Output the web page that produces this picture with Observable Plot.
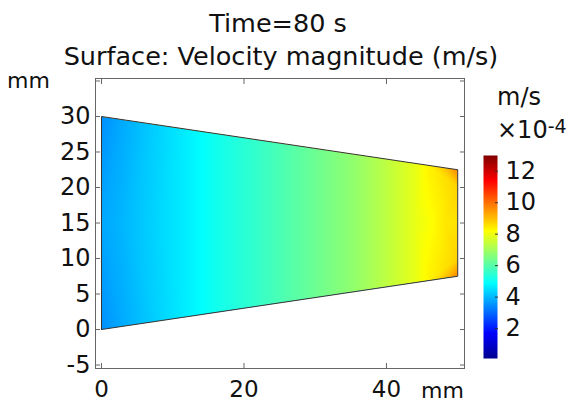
<!DOCTYPE html>
<html><head><meta charset="utf-8">
<script src="https://cdn.jsdelivr.net/npm/d3@7"></script>
<script src="https://cdn.jsdelivr.net/npm/@observablehq/plot@0.6"></script>
<style>
html,body{margin:0;padding:0;background:#fff;}
#wrap{position:relative;width:573px;height:403px;overflow:hidden;font-family:"DejaVu Sans",sans-serif;color:#111;}
.t{position:absolute;white-space:nowrap;line-height:1;}
#plot,#bar{position:absolute;top:0;}
#plot{left:0;}
#bar{left:470px;}
</style></head><body>
<div id="wrap">
  <div id="plot"></div>
  <div id="bar"></div>
  <div class="t" id="title1" style="font-size:25.5px;left:278px;top:10.5px;transform:translateX(-50%)"></div>
  <div class="t" id="title2" style="font-size:25.5px;left:281px;top:43.5px;transform:translateX(-50%)"></div>
  <div class="t" id="ylab" style="font-size:22px;left:7px;top:70.4px"></div>
  <div class="t" id="xlab" style="font-size:22px;left:421px;top:379.5px"></div>
  <div class="t" id="cunit" style="font-size:24px;left:497px;top:84.7px"></div>
  <div class="t" id="cexp" style="font-size:24px;left:497px;top:117.7px"></div>
</div>
<script>
// ---- texts ----
const titleText = "Time=80 s";
const subtitleText = "Surface: Velocity magnitude (m/s)";
const axisUnit = "mm";
const colorUnit = "m/s";
const colorBase = "\u00d710";
const colorExp = "-4";

// ---- geometry of the domain (mm) ----
const shapeX = [0, 50, 50, 0, 0];
const shapeY = [0, 7.5, 22.5, 30, 0];

// ---- velocity magnitude samples (x1e-4 m/s), read per column ----
const colX       = [0, 3, 8, 12, 16, 21, 25, 30, 35, 40, 44, 46, 48, 50];
const colBottomY = [0, 0.45, 1.2, 1.8, 2.4, 3.15, 3.75, 4.5, 5.25, 6, 6.6, 6.9, 7.2, 7.5];
const colTopY    = [30, 29.55, 28.8, 28.2, 27.6, 26.85, 26.25, 25.5, 24.75, 24, 23.4, 23.1, 22.8, 22.5];
const colMidV    = [3.8, 4.0, 4.4, 4.7, 5.1, 5.5, 5.85, 6.3, 6.75, 7.35, 7.9, 8.15, 8.45, 8.55];
const colEdgeV   = [3.5, 3.85, 4.35, 4.7, 5.1, 5.5, 5.85, 6.3, 6.75, 7.35, 7.9, 8.35, 8.9, 9.7];
const midY = 15;
// extra readings along the outlet edge (x = 50 mm)
const outletY = [10, 20];
const outletV = [8.75, 8.75];

// ---- ticks ----
const xTicks = [0, 20, 40];
const yTicks = [-5, 0, 5, 10, 15, 20, 25, 30, 35];
const yLabelled = [-5, 0, 5, 10, 15, 20, 25, 30];
const barTicks = [2, 4, 6, 8, 10, 12];

// ---- colour map (rainbow) ----
const colorDomain = [0.1, 1.7, 4.9, 8.2, 11.4, 13];
const colorRange = ["#00008f", "#0000ff", "#00ffff", "#ffff00", "#ff0000", "#800000"];

document.getElementById("title1").textContent = titleText;
document.getElementById("title2").textContent = subtitleText;
document.getElementById("ylab").textContent = axisUnit;
document.getElementById("xlab").textContent = axisUnit;
document.getElementById("cunit").textContent = colorUnit;
document.getElementById("cexp").innerHTML = colorBase + '<span style="font-size:19px;position:relative;top:-5px">' + colorExp + '</span>';

const samples = [];
colX.forEach((x, i) => {
  samples.push({x, y: colBottomY[i], v: colEdgeV[i]});
  samples.push({x, y: midY, v: colMidV[i]});
  samples.push({x, y: colTopY[i], v: colEdgeV[i]});
});
outletY.forEach((y, i) => samples.push({x: 50, y, v: outletV[i]}));
const shape = shapeX.map((x, i) => ({x, y: shapeY[i]}));

const colorOpts = {type: "linear", domain: colorDomain, range: colorRange, interpolate: "rgb"};
const styleOpts = {fontFamily: "DejaVu Sans", fontSize: "24px", color: "#111", background: "transparent", overflow: "visible"};

const plot = Plot.plot({
  width: 470, height: 403,
  marginLeft: 95, marginRight: 6, marginTop: 78, marginBottom: 35,
  x: {domain: [-0.84, 50.95]},
  y: {domain: [-5.49, 35.35]},
  color: colorOpts,
  style: styleOpts,
  marks: [
    Plot.raster(samples, {x: "x", y: "y", fill: "v", x1: 0, x2: 50, y1: 0, y2: 30, interpolate: "barycentric"}),
    Plot.line(shape, {x: "x", y: "y", stroke: "#333", strokeWidth: 1}),
    Plot.frame({stroke: "#666"}),
    Plot.axisX({anchor: "bottom", ticks: xTicks, tickSize: -5, tickPadding: 17, stroke: "#666", fontSize: 23, label: null, tickFormat: d => String(d)}),
    Plot.axisX({anchor: "top", ticks: xTicks, tickSize: -5, stroke: "#666", label: null, tickFormat: () => ""}),
    Plot.axisY({anchor: "left", ticks: yTicks, tickSize: -5, tickPadding: 10, stroke: "#666", fontSize: 24, label: null,
      tickFormat: d => yLabelled.includes(d) ? String(d) : ""}),
    Plot.axisY({anchor: "right", ticks: yTicks, tickSize: -5, stroke: "#666", label: null, tickFormat: () => ""})
  ]
});

// clip the field to the trapezoid
const xs = plot.scale("x"), ys = plot.scale("y");
const ns = "http://www.w3.org/2000/svg";
const defs = document.createElementNS(ns, "defs");
const cp = document.createElementNS(ns, "clipPath");
cp.setAttribute("id", "trapClip");
const poly = document.createElementNS(ns, "polygon");
poly.setAttribute("points", shape.map(d => `${xs.apply(d.x)},${ys.apply(d.y)}`).join(" "));
cp.appendChild(poly); defs.appendChild(cp);
plot.insertBefore(defs, plot.firstChild);
const img = plot.querySelector("image");
if (img) img.parentNode.setAttribute("clip-path", "url(#trapClip)");
document.getElementById("plot").appendChild(plot);

const bar = Plot.plot({
  width: 103, height: 403,
  marginLeft: 13, marginRight: 76, marginTop: 155, marginBottom: 45,
  x: {domain: [0, 1], axis: null},
  y: {domain: [0.1, 13], axis: null},
  color: colorOpts,
  style: styleOpts,
  marks: [
    Plot.raster({fill: (x, y) => y, x1: 0, x2: 1, y1: 0.1, y2: 13}),
    Plot.axisY({anchor: "right", ticks: barTicks, tickSize: -3, tickPadding: 11, stroke: "#333", fontSize: 24, label: null})
  ]
});
document.getElementById("bar").appendChild(bar);
</script>
</body></html>
